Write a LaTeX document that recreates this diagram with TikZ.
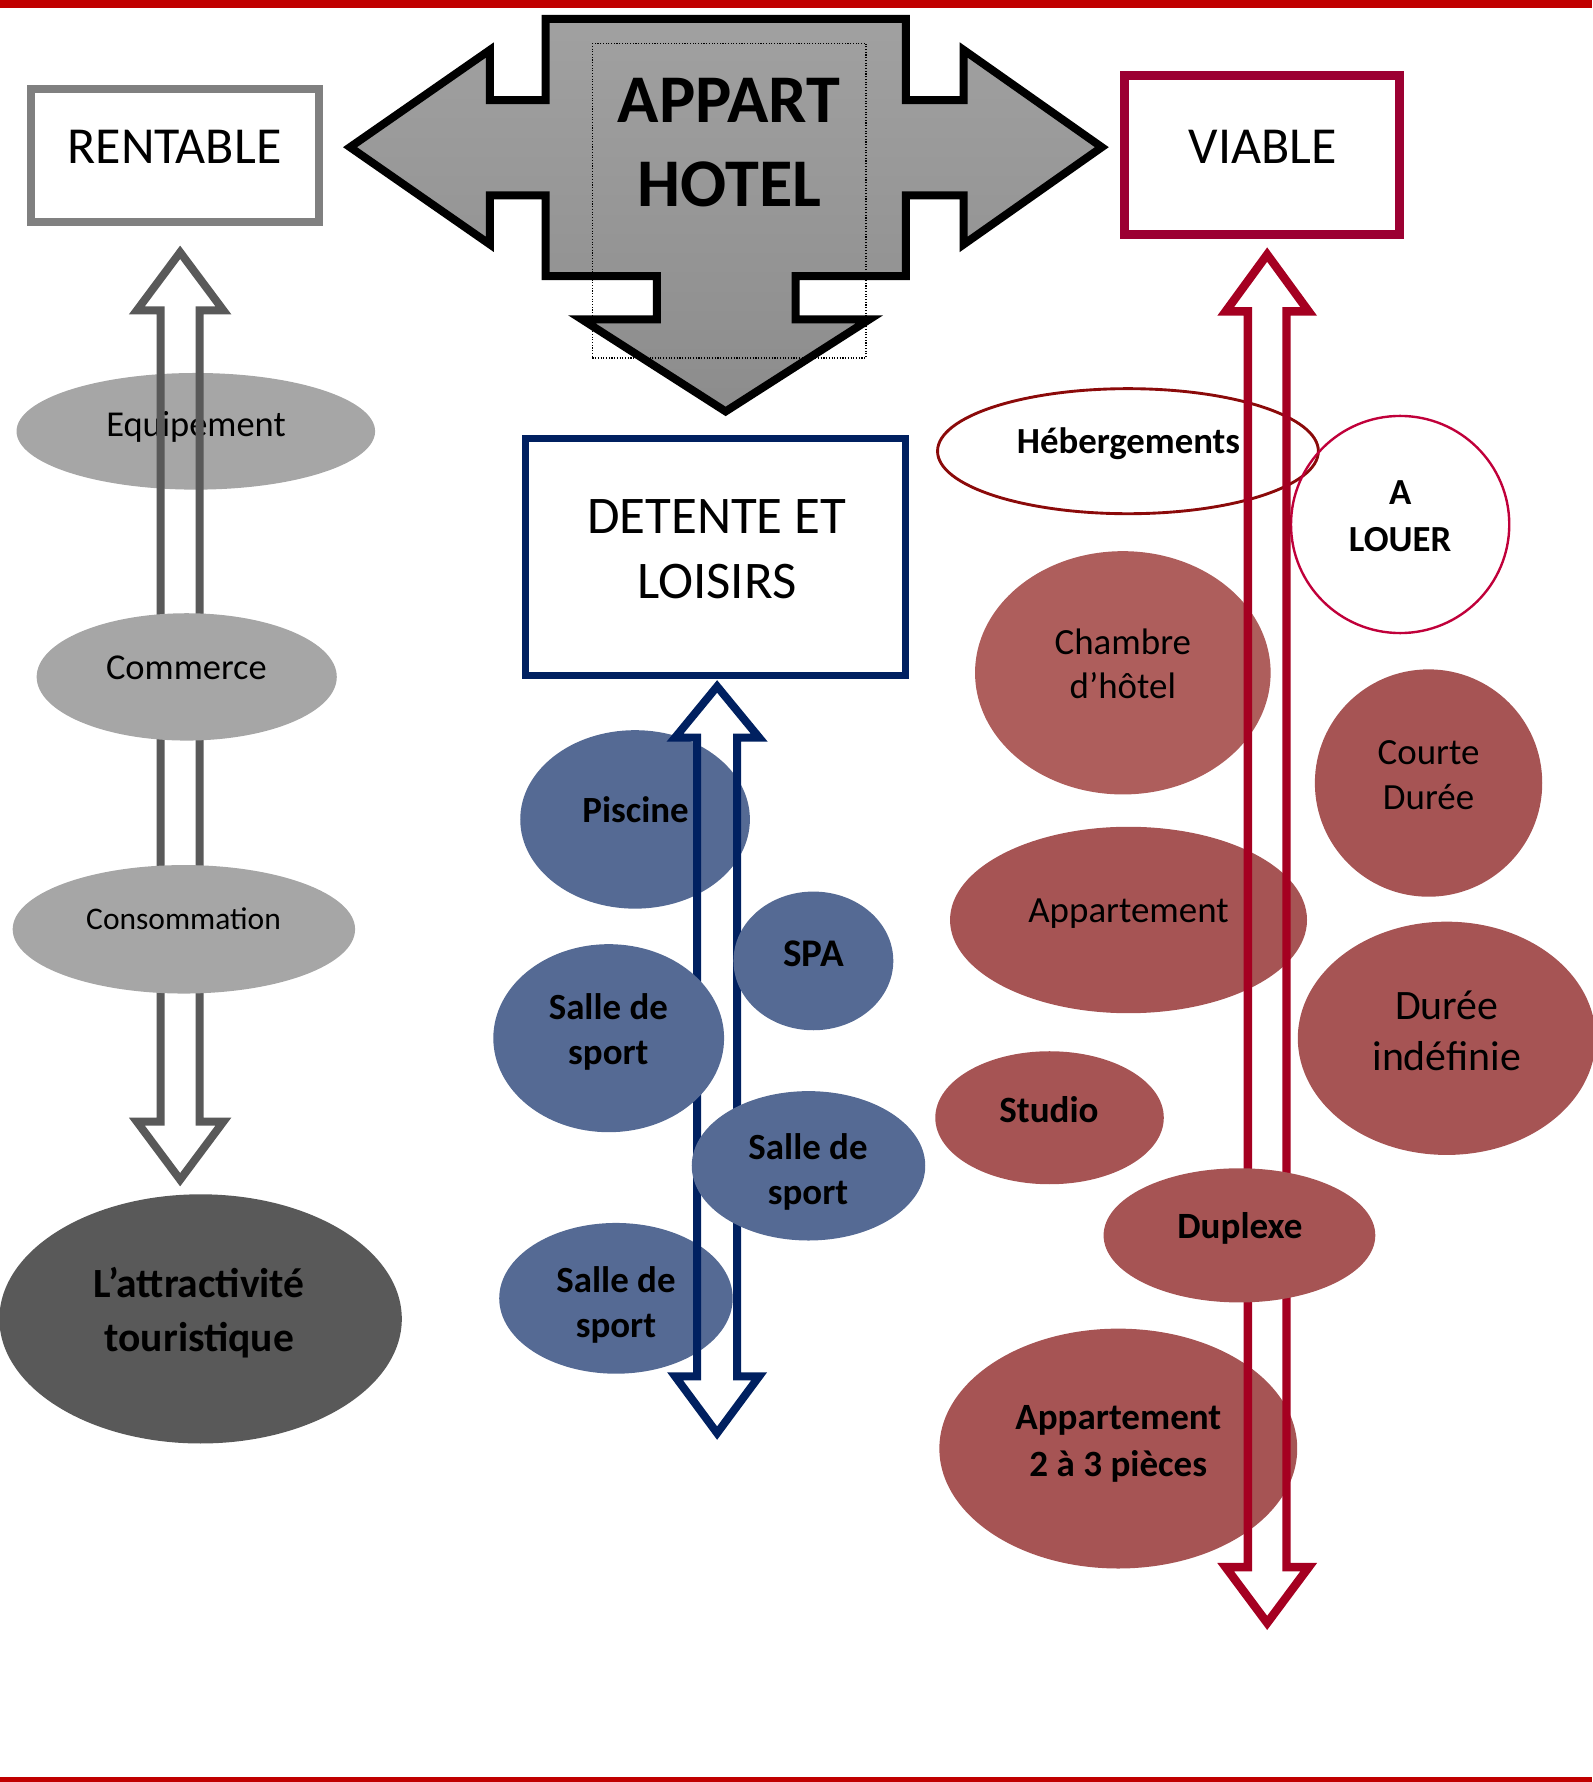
\documentclass[tikz,border=0pt]{standalone}
\usepackage{fontspec}
\setmainfont{Carlito}
\usetikzlibrary{shapes.geometric}
\definecolor{barred}{HTML}{C00000}
\definecolor{boxgray}{HTML}{808080}
\definecolor{arrgray}{HTML}{595959}
\definecolor{ellgray}{HTML}{A6A6A6}
\definecolor{darkell}{HTML}{595959}
\definecolor{navyc}{HTML}{002060}
\definecolor{blueell}{HTML}{556A94}
\definecolor{viabc}{HTML}{9C0032}
\definecolor{redarr}{HTML}{A50021}
\definecolor{redell}{HTML}{A65454}
\definecolor{redelltwo}{HTML}{AE5E5C}
\definecolor{hebc}{HTML}{8B0A0A}
\definecolor{louerc}{HTML}{C0003A}
\newcommand{\myfs}[1]{\fontsize{#1}{#1}\selectfont}
\begin{document}
\begin{tikzpicture}[x=0.025cm,y=-0.025cm,
  ell/.style 2 args={ellipse, inner sep=0pt, draw=none, minimum width=#1*0.05cm, minimum height=#2*0.05cm},
  txt/.style={anchor=base, inner sep=0pt, text=black},
  hollow/.style={line width=5pt, line join=miter, miter limit=10}]
\useasboundingbox (0,0) rectangle (1401,1568);
% bars
\fill[barred] (0,0) rectangle (1401,7);
\fill[barred] (0,1564) rectangle (1401,1568);

% APPART HOTEL arrow
\draw[line width=5pt, line join=miter, top color=black!37, bottom color=black!45]
 (480,16.6) -- (797,16.6) -- (797,88) -- (848,88) -- (848,44) -- (969.5,129.5) -- (848,215) -- (848,172)
 -- (797,172) -- (797,243) -- (700,243) -- (700,281) -- (765,281) -- (638.5,362) -- (512,281) -- (578,281)
 -- (578,243) -- (480,243) -- (480,172) -- (431,172) -- (431,215) -- (308,129.5) -- (431,44) -- (431,88)
 -- (480,88) -- cycle;
\draw[densely dotted, line width=0.7pt] (521,38) rectangle (762,315);
\node[txt, font=\myfs{42.7}\bfseries] (appart) at (641.5,107.5) {APPART};
\node[txt, font=\myfs{42.7}\bfseries] (hotel) at (642,182) {HOTEL};

% boxes
\draw[draw=boxgray, line width=4.6pt, fill=white] (27.3,78.3) rectangle (280.7,195.3);
\node[txt, font=\myfs{32.5}] (rentable) at (153.5,143.5) {RENTABLE};
\draw[draw=viabc, line width=5.7pt, fill=white] (989.5,66.5) rectangle (1231.6,206.6);
\node[txt, font=\myfs{32.5}] (viable) at (1111,143.5) {VIABLE};
\draw[draw=navyc, line width=4.3pt, fill=white] (462.6,385.7) rectangle (797,594);
\node[txt, font=\myfs{33.1}] (detente) at (630.7,469.5) {DETENTE ET};
\node[txt, font=\myfs{33.1}] (loisirs) at (630.7,526.5) {LOISIRS};

% left column
\node[ell={157.7}{51.3}, fill=ellgray] (equip) at (172.3,379.5) {};
\node[txt, font=\myfs{22.8}] (equipT) at (172.5,384) {Equipement};
\draw[hollow, draw=arrgray] (158.5,222) -- (196.5,273) -- (175.7,273) -- (175.7,987) -- (196.5,987) -- (158.5,1038)
 -- (120.5,987) -- (141.3,987) -- (141.3,273) -- (120.5,273) -- cycle;
\node[ell={132}{56}, fill=ellgray] (comm) at (164.3,595.6) {};
\node[txt, font=\myfs{22.8}] (commT) at (164,598) {Commerce};
\node[ell={150.6}{56.5}, fill=ellgray] (conso) at (161.8,817.7) {};
\node[txt, font=\myfs{19.7}] (consoT) at (161.5,818) {Consommation};
\node[ell={177}{109.6}, fill=darkell] (attr) at (176.5,1160.5) {};
\node[txt, font=\myfs{26}\bfseries] (attrA) at (175.4,1142) {L’attractivité};
\node[txt, font=\myfs{26}\bfseries] (attrB) at (175.4,1189) {touristique};

% middle column
\node[ell={101}{78.5}, fill=blueell] (pisc) at (558.8,721) {};
\node[txt, font=\myfs{23.1}\bfseries] (piscT) at (559.3,724) {Piscine};
\node[ell={102.7}{66.3}, fill=blueell] (salleB) at (542,1142.4) {};
\node[txt, font=\myfs{23.1}\bfseries] (salleBa) at (542,1137) {Salle de};
\node[txt, font=\myfs{23.1}\bfseries] (salleBb) at (542,1177) {sport};
\draw[hollow, draw=navyc] (631,604) -- (668,649) -- (648.5,649) -- (648.5,1211) -- (668,1211) -- (631,1261)
 -- (594,1211) -- (613.5,1211) -- (613.5,649) -- (594,649) -- cycle;
\node[ell={70.3}{61}, fill=blueell] (spa) at (715.7,845.5) {};
\node[txt, font=\myfs{24.5}\bfseries] (spaT) at (715.8,850) {SPA};
\node[ell={101.5}{82.7}, fill=blueell] (salleL) at (535.6,913.5) {};
\node[txt, font=\myfs{23.1}\bfseries] (salleLa) at (535.3,897) {Salle de};
\node[txt, font=\myfs{23.1}\bfseries] (salleLb) at (535.3,937) {sport};
\node[ell={102.7}{65.7}, fill=blueell] (salleR) at (711.4,1025.8) {};
\node[txt, font=\myfs{23.1}\bfseries] (salleRa) at (711,1020) {Salle de};
\node[txt, font=\myfs{23.1}\bfseries] (salleRb) at (711,1060) {sport};

% right column
\node[ell={167.5}{55}, draw=hebc, line width=1.8pt] (heb) at (992.5,397) {};
\node[txt, font=\myfs{23}\bfseries] (hebT) at (993,399) {Hébergements};
\node[ell={96}{95.5}, draw=louerc, line width=1.5pt] (louer) at (1232,461.5) {};
\node[txt, font=\myfs{23}\bfseries] (louerA) at (1232,444) {A};
\node[txt, font=\myfs{23}\bfseries] (louerB) at (1232,485) {LOUER};
\node[ell={130}{107}, fill=redelltwo] (chambre) at (988,592) {};
\node[txt, font=\myfs{23.1}] (chambreA) at (988,576) {Chambre};
\node[txt, font=\myfs{23.1}] (chambreB) at (988,615) {d’hôtel};
\node[ell={100}{100}, fill=redell] (courte) at (1257,689) {};
\node[txt, font=\myfs{23.1}] (courteA) at (1257,672.5) {Courte};
\node[txt, font=\myfs{23.1}] (courteB) at (1257,712.5) {Durée};
\node[ell={157}{82}, fill=redell] (appart1) at (993,809.5) {};
\node[txt, font=\myfs{23.1}] (appart1T) at (993,812) {Appartement};
\node[ell={131}{102.6}, fill=redell] (duree) at (1273,913.6) {};
\node[txt, font=\myfs{26.2}] (dureeA) at (1273,897) {Durée};
\node[txt, font=\myfs{26.2}] (dureeB) at (1273,942) {indéfinie};
\node[ell={100.5}{58.5}, fill=redell] (studio) at (923.5,983.5) {};
\node[txt, font=\myfs{23.2}\bfseries] (studioT) at (923,988) {Studio};
\node[ell={157.4}{105.5}, fill=redell] (app23) at (984,1274.6) {};
\node[txt, font=\myfs{23.2}\bfseries] (app23A) at (984,1258) {Appartement};
\node[txt, font=\myfs{23.2}\bfseries] (app23B) at (984,1299) {2 à 3 pièces};
\draw[hollow, draw=redarr, line width=5.3pt] (1115,224) -- (1151.5,274) -- (1132,274) -- (1132,1379) -- (1151.5,1379) -- (1115,1428)
 -- (1078.5,1379) -- (1098,1379) -- (1098,274) -- (1078.5,274) -- cycle;
\node[ell={119.5}{59}, fill=redell] (duplexe) at (1090.6,1087) {};
\node[txt, font=\myfs{23.2}\bfseries] (duplexeT) at (1091,1090) {Duplexe};
\end{tikzpicture}
\end{document}
